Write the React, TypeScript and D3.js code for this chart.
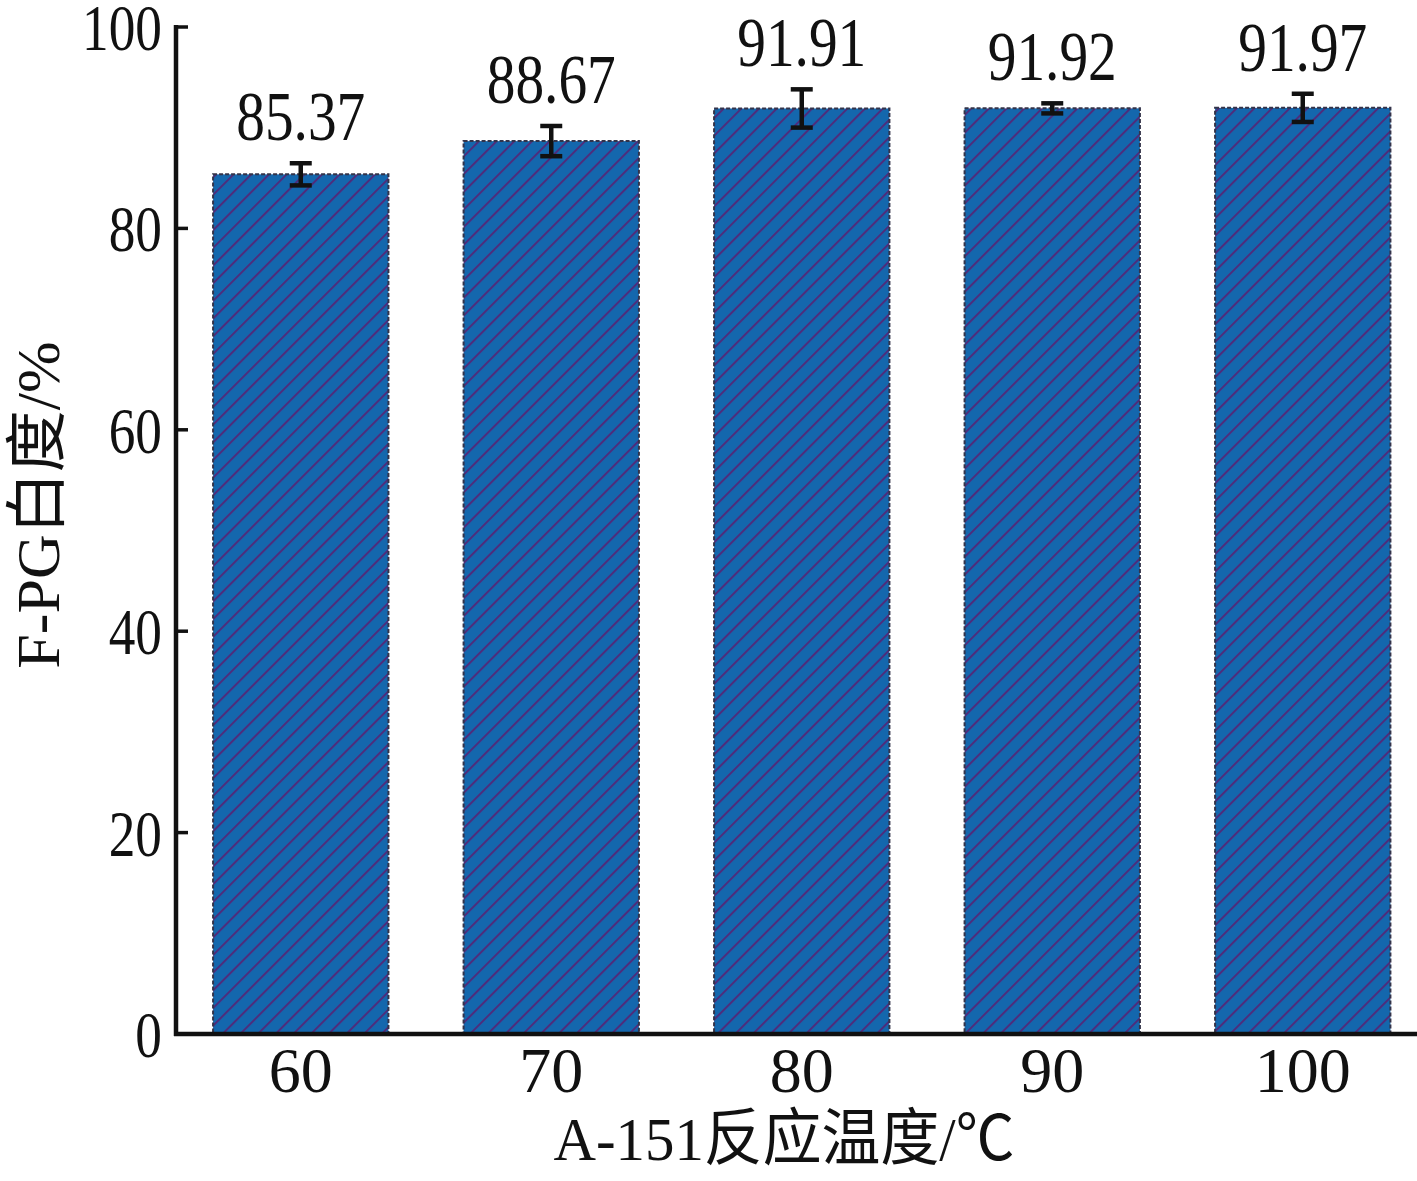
import React, { useEffect, useRef } from 'react';
import * as d3 from 'd3';

const categories = ['60', '70', '80', '90', '100'];
const values = [85.37, 88.67, 91.91, 91.92, 91.97];
const errors = [1.1, 1.5, 1.9, 0.5, 1.4];
const yTicks = [0, 20, 40, 60, 80, 100];

const W = 1417;
const H = 1181;
const serif = '"Liberation Serif", "Times New Roman", serif';
const cjk = '"Liberation Serif", "Noto Sans CJK SC", serif';

const App = () => {
  const ref = useRef<SVGSVGElement>(null);

  useEffect(() => {
    const svg = d3.select(ref.current);
    svg.selectAll('*').remove();

    const x = d3.scaleBand<string>()
      .domain(categories)
      .range([175.5, 1428])
      .paddingInner(0.3)
      .paddingOuter(0.15);
    const y = d3.scaleLinear().domain([0, 100]).range([1034, 27]);

    // hatch pattern
    const defs = svg.append('defs');
    const pat = defs.append('pattern')
      .attr('id', 'hatch')
      .attr('patternUnits', 'userSpaceOnUse')
      .attr('width', 12.5)
      .attr('height', 12.5)
      .attr('patternTransform', 'rotate(45)');
    pat.append('rect').attr('width', 12.5).attr('height', 12.5).attr('fill', '#1467ad');
    pat.append('line')
      .attr('x1', 0).attr('y1', 0).attr('x2', 0).attr('y2', 12.5)
      .attr('stroke', '#4e2c7c').attr('stroke-width', 4);

    // bars
    svg.append('g')
      .selectAll('rect')
      .data(values)
      .join('rect')
      .attr('x', (d, i) => x(categories[i])!)
      .attr('y', d => y(d))
      .attr('width', x.bandwidth())
      .attr('height', d => y(0) - y(d))
      .attr('fill', 'url(#hatch)')
      .attr('stroke', '#33334a')
      .attr('stroke-width', 2)
      .attr('stroke-dasharray', '4,2');

    // error bars
    const eb = svg.append('g').attr('stroke', '#111').attr('stroke-width', 4.5);
    values.forEach((v, i) => {
      const cx = x(categories[i])! + x.bandwidth() / 2;
      const top = y(v + errors[i]);
      const bot = y(v - errors[i]);
      eb.append('line').attr('x1', cx).attr('x2', cx).attr('y1', top).attr('y2', bot);
      eb.append('line').attr('x1', cx - 11).attr('x2', cx + 11).attr('y1', top).attr('y2', top);
      eb.append('line').attr('x1', cx - 11).attr('x2', cx + 11).attr('y1', bot).attr('y2', bot);
    });

    // value labels
    svg.append('g')
      .selectAll('text')
      .data(values)
      .join('text')
      .attr('transform', (d, i) => {
        const cx = x(categories[i])! + x.bandwidth() / 2;
        return `translate(${cx},${y(d + errors[i]) - 23}) scale(0.82,1)`;
      })
      .attr('text-anchor', 'middle')
      .attr('font-family', serif)
      .attr('font-size', 70)
      .attr('fill', '#111')
      .text(d => d.toFixed(2));

    // axes
    const ax = svg.append('g').attr('stroke', '#111');
    ax.append('line').attr('x1', 176).attr('x2', 176).attr('y1', y(100) - 2).attr('y2', y(0) + 2)
      .attr('stroke-width', 4.5);
    ax.append('line').attr('x1', 174).attr('x2', W).attr('y1', y(0)).attr('y2', y(0))
      .attr('stroke-width', 4.5);
    yTicks.forEach(t => {
      ax.append('line').attr('x1', 176).attr('x2', 188).attr('y1', y(t)).attr('y2', y(t))
        .attr('stroke-width', 3.5);
    });

    // y tick labels
    svg.append('g')
      .selectAll('text')
      .data(yTicks)
      .join('text')
      .attr('transform', d => `translate(162,${y(d) + 23}) scale(0.82,1)`)
      .attr('text-anchor', 'end')
      .attr('font-family', serif)
      .attr('font-size', 65)
      .attr('fill', '#111')
      .text(d => d);

    // x tick labels
    svg.append('g')
      .selectAll('text')
      .data(categories)
      .join('text')
      .attr('transform', d => `translate(${x(d)! + x.bandwidth() / 2},1092)`)
      .attr('text-anchor', 'middle')
      .attr('font-family', serif)
      .attr('font-size', 64)
      .attr('fill', '#111')
      .text(d => d);

    // axis titles
    svg.append('text')
      .attr('transform', 'translate(784,1160) scale(0.95,1)')
      .attr('text-anchor', 'middle')
      .attr('font-family', cjk)
      .attr('font-size', 62)
      .attr('fill', '#111')
      .text('A-151反应温度/℃');

    svg.append('text')
      .attr('transform', 'translate(59,505) rotate(-90)')
      .attr('text-anchor', 'middle')
      .attr('font-family', cjk)
      .attr('font-size', 62)
      .attr('fill', '#111')
      .text('F-PG白度/%');
  }, []);

  return (
    <svg ref={ref} width={W} height={H}
      style={{ position: 'absolute', left: 0, top: 0, background: '#fff' }} />
  );
};

export default App;
